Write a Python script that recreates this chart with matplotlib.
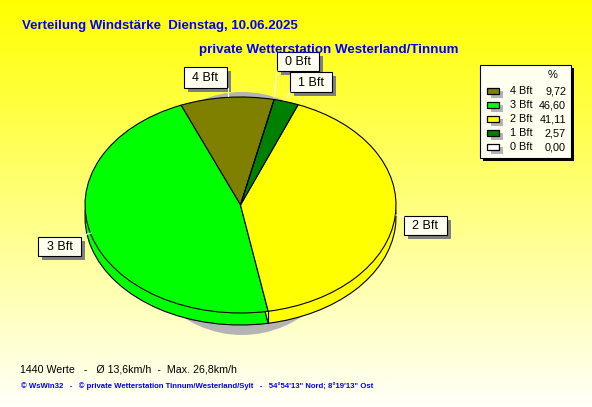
#!/usr/bin/env python3
"""Wind force distribution pie, WsWin32 style."""
import numpy as np
import matplotlib
matplotlib.use("Agg")
import matplotlib.pyplot as plt
from matplotlib.patches import Ellipse, Rectangle

W, H = 592, 407

categories = ["4 Bft", "3 Bft", "2 Bft", "1 Bft", "0 Bft"]
values = [9.72, 46.60, 41.11, 2.57, 0.00]
value_labels = ["9,72", "46,60", "41,11", "2,57", "0,00"]
colors = ["#808000", "#00FF00", "#FFFF00", "#008000", "#FFFFFF"]

title = "Verteilung Windstärke  Dienstag, 10.06.2025"
subtitle = "private Wetterstation Westerland/Tinnum"
stats = "1440 Werte   -   Ø 13,6km/h  -  Max. 26,8km/h"
footer = "© WsWin32   -   © private Wetterstation Tinnum/Westerland/Sylt   -   54°54'13\" Nord; 8°19'13\" Ost"

PIE_BOX = (85, 97, 396, 313)
DEPTH = 12
START = 77.5
IVORY = "#FFFFF0"

# label boxes: x0, y0, x1, y1 and leader line points
callouts = {
    "4 Bft": ((184, 67, 227, 88), [(228, 88), (228, 96)]),
    "0 Bft": ((277, 52, 319, 71), [(277, 71), (275, 90), (274, 97)]),
    "1 Bft": ((290, 72, 332, 92), [(290, 92), (287, 98)]),
    "3 Bft": ((38, 237, 81, 256), [(81, 236), (91, 233)]),
    "2 Bft": ((404, 216, 447, 235), [(396, 215), (404, 217)]),
}

plt.rcParams["font.family"] = ["Liberation Sans", "DejaVu Sans"]
fig = plt.figure(figsize=(W / 100, H / 100), dpi=100)


def px_axes(x0, y0, x1, y1):
    ax = fig.add_axes([x0 / W, 1 - y1 / H, (x1 - x0) / W, (y1 - y0) / H])
    ax.set_axis_off()
    return ax


def draw_pie(box):
    ax = px_axes(*box)
    ax.pie(values, colors=colors, startangle=START, radius=1, center=(0, 0),
           wedgeprops={"edgecolor": "black", "linewidth": 0.8})
    ax.set_aspect("auto")
    ax.set_xlim(-1, 1)
    ax.set_ylim(-1, 1)
    return ax


# background gradient and pie shadow
bg = px_axes(0, 0, W, H)
grad = np.ones((H, 1, 3))
grad[:, 0, 2] = np.linspace(0, 0.98, H)
bg.imshow(grad, extent=(0, W, H, 0), aspect="auto")
bg.set_xlim(0, W)
bg.set_ylim(H, 0)
bg.add_patch(Ellipse((242, 213.5), 226, 243, facecolor="#B4B4B4", edgecolor="none"))

x0, y0, x1, y1 = PIE_BOX
draw_pie((x0, y0 + DEPTH, x1, y1 + DEPTH))
draw_pie(PIE_BOX)

# overlay for texts, legend and callouts
top = px_axes(0, 0, W, H)
top.set_xlim(0, W)
top.set_ylim(H, 0)

# side edge where 3 Bft meets 2 Bft
edge = np.deg2rad(START + sum(values[:2]) * 3.6)
ex = (x0 + x1) / 2 + np.cos(edge) * (x1 - x0) / 2
ey = (y0 + y1) / 2 - np.sin(edge) * (y1 - y0) / 2
top.plot([ex, ex], [ey, ey + DEPTH], color="black", lw=0.8)

top.text(22, 26, title, color="#0000FF", fontsize=9.5, fontweight="bold", va="center")
top.text(199, 49.5, subtitle, color="#0000FF", fontsize=9.6, fontweight="bold", va="center")
top.text(20, 369, stats, color="black", fontsize=7.7, va="center")
top.text(21, 386.5, footer, color="#0000FF", fontsize=5.55, fontweight="bold", va="center")

# legend box
top.add_patch(Rectangle((483, 68), 91, 93, facecolor="black", edgecolor="none"))
top.add_patch(Rectangle((480, 65), 91, 93, facecolor=IVORY, edgecolor="black", lw=0.8))
top.text(553, 75, "%", fontsize=8, ha="center", va="center", color="black")
for i, (cat, val, col) in enumerate(zip(categories, value_labels, colors)):
    y = 91 + i * 14
    top.add_patch(Rectangle((491, y), 12, 7, facecolor="#B4B4B4", edgecolor="none"))
    top.add_patch(Rectangle((487, y - 3.5), 12, 6.5, facecolor=col, edgecolor="black", lw=0.9))
    top.text(510, y + 0.5, cat, fontsize=7.8, va="center", color="black")
    top.text(566, y + 0.5, val, fontsize=7.8, va="center", ha="right", color="black")

# callouts
for cat, (box, leader) in callouts.items():
    bx0, by0, bx1, by1 = box
    xs, ys = zip(*leader)
    top.plot(xs, ys, color="white", lw=0.8)
    top.add_patch(Rectangle((bx0 + 4, by0 + 4), bx1 - bx0, by1 - by0,
                            facecolor="#808080", edgecolor="none"))
    top.add_patch(Rectangle((bx0, by0), bx1 - bx0, by1 - by0, facecolor=IVORY,
                            edgecolor="black", lw=0.8))
    top.text((bx0 + bx1) / 2, (by0 + by1) / 2 + 0.5, cat, fontsize=9, ha="center",
             va="center", color="black")

fig.savefig("out.png", dpi=100)
plt.close(fig)
